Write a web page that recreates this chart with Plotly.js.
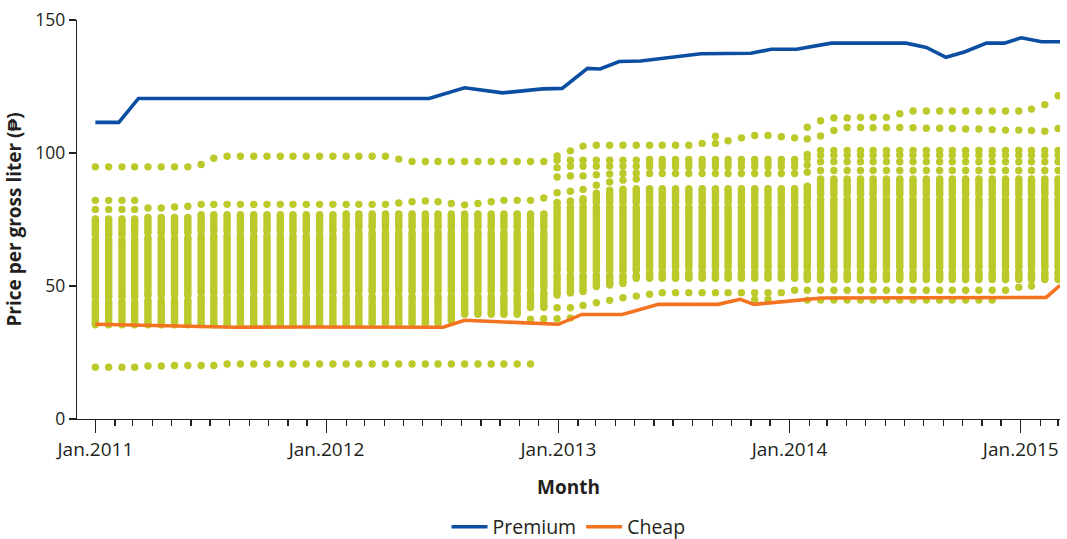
<!DOCTYPE html>
<html>
<head>
<meta charset="utf-8">
<script src="https://cdn.plot.ly/plotly-3.0.1.min.js"></script>
<style>html,body{margin:0;padding:0;background:#fff;}#chart{width:1067px;height:539px;}</style>
</head>
<body>
<div id="chart"></div>
<script>
const n = null;
// survey dates of the per-product price observations (green columns)
const surveyDates = [
'2011-01-01','2011-01-22','2011-02-12','2011-03-04','2011-03-25','2011-04-15','2011-05-06','2011-05-27','2011-06-17','2011-07-07',
'2011-07-28','2011-08-18','2011-09-08','2011-09-29','2011-10-20','2011-11-09','2011-11-30','2011-12-21','2012-01-11','2012-02-01',
'2012-02-21','2012-03-13','2012-04-03','2012-04-24','2012-05-15','2012-06-05','2012-06-25','2012-07-16','2012-08-06','2012-08-27',
'2012-09-17','2012-10-07','2012-10-28','2012-11-18','2012-12-09','2012-12-30','2013-01-20','2013-02-09','2013-03-02','2013-03-23',
'2013-04-13','2013-05-04','2013-05-25','2013-06-14','2013-07-05','2013-07-26','2013-08-16','2013-09-06','2013-09-26','2013-10-17',
'2013-11-07','2013-11-28','2013-12-19','2014-01-09','2014-01-29','2014-02-19','2014-03-12','2014-04-02','2014-04-23','2014-05-13',
'2014-06-03','2014-06-24','2014-07-15','2014-08-05','2014-08-26','2014-09-15','2014-10-06','2014-10-27','2014-11-17','2014-12-08',
'2014-12-29','2015-01-18','2015-02-08','2015-03-01'];

// dense band of product prices per survey: lowest, breaks, highest
const barLo = [
35.4,35.4,35.4,35.4,35.4,35.4,35.4,35.4,35.4,35.4,
35.4,35.4,35.4,35.4,35.4,35.4,35.4,35.4,35.4,35.9,
35.9,35.9,35.9,35.9,35.9,35.9,35.9,36.9,39.4,39.4,
39.4,39.4,39.4,41.9,41.9,46.6,47.4,47.9,49.8,50.4,
50.9,52.9,52.9,52.9,52.9,52.9,52.9,52.9,52.9,52.9,
52.9,52.9,52.9,52.9,52.4,52.4,52.4,52.4,52.4,52.4,
52.4,52.4,52.4,52.4,52.4,52.4,52.4,52.4,52.4,52.4,
52.4,52.4,52.4,52.4];
const notchLo = [
45,45,45,45,45.5,45.5,45.5,45.5,46.5,46.5,
46.5,46.5,46.5,46.5,46.5,46.5,46.5,46.5,46.5,47,
47,47,47,47,47,47,47,47,47,47,
47,47,47,48.5,48.5,55,55,55,55,55,
55,55,56,56,56,56,56,56,56,56,
56,56,56,56,56,56,56,56,56,56,
56,56,56,56,56,56,56,56,56,56,
56,56,56,56];
const notchHi = [
68.4,68.4,68.4,68.4,69,69,69,69,69.7,69.7,
69.7,69.7,69.7,69.7,69.7,69.7,69.7,69.7,69.7,71,
71,71,71,71,71,71,71,71,71,71,
71,71,71,71,71,80.5,80.5,80.5,80.5,80.5,
80.5,80.5,80.5,80.5,80.5,80.5,80.5,80.5,80.5,80.5,
80.5,80.5,80.5,80.5,80.5,83.5,83.5,83.5,83.5,83.5,
83.5,83.5,83.5,83.5,83.5,83.5,83.5,83.5,83.5,83.5,
83.5,83.5,83.5,83.5];
const barHi = [
75.2,75.2,75.2,75.2,75.8,75.8,75.8,75.8,76.8,76.8,
76.8,76.8,76.8,76.8,76.8,76.8,76.8,76.8,76.8,77.1,
77.1,77.1,77.1,77.1,77.1,77.1,77.1,77.1,77.1,77.1,
77.1,77.1,77.1,77.1,77.1,81.2,82,82.8,84.9,86,
86.4,86.6,86.6,86.6,86.6,86.6,86.6,86.6,86.6,86.6,
86.6,86.6,86.6,86.6,87.5,90.2,90.2,90.2,90.2,90.2,
90.2,90.2,90.2,90.2,90.2,90.2,90.2,90.2,90.2,90.2,
90.2,90.2,90.2,90.2];

// isolated product prices per survey
const lowDot = [
19.5,19.5,19.5,19.5,19.9,19.9,20.1,20.1,20.1,20.1,
20.7,20.7,20.7,20.7,20.7,20.7,20.7,20.7,20.7,20.7,
20.7,20.7,20.7,20.7,20.7,20.7,20.7,20.7,20.7,20.7,
20.7,20.7,20.7,20.7,n,n,n,n,n,n,
n,n,n,n,n,n,n,n,n,n,
n,n,n,n,n,n,n,n,n,n,
n,n,n,n,n,n,n,n,n,n,
n,n,n,n];
const dotBelow2 = [
n,n,n,n,n,n,n,n,n,n,
n,n,n,n,n,n,n,n,n,n,
n,n,n,n,n,n,n,n,n,n,
n,n,n,n,n,37.7,38,n,n,n,
n,n,n,n,n,n,n,n,n,n,
44.9,44.9,n,n,44.7,44.7,44.7,44.7,44.7,44.7,
44.7,44.7,44.7,44.7,44.7,44.7,44.7,44.7,44.7,n,
n,n,n,n];
const dotBelow1 = [
n,n,n,n,n,n,n,n,n,n,
n,n,n,n,n,n,n,n,n,n,
n,n,n,n,n,n,n,n,n,n,
n,n,n,37.5,37.7,41.8,41.8,42.7,43.7,44.6,
45.6,46.2,46.9,47.5,47.5,47.5,47.5,47.5,47.5,47.5,
47.5,47.5,47.5,48.4,48.4,48.4,48.4,48.4,48.4,48.4,
48.4,48.4,48.4,48.4,48.4,48.4,48.4,48.4,48.4,48.4,
49.5,50,n,n];
const dotAbove1 = [
78.8,78.8,78.8,78.8,79.3,79.3,79.7,80,80.7,80.7,
80.7,80.7,80.7,80.7,80.7,80.7,80.7,80.7,80.7,80.7,
80.7,80.7,80.7,81.2,81.7,82,81.7,81,80.5,81,
81.7,82.2,82.2,82.2,83.1,85.1,85.6,86.3,87.9,89.1,
89.8,90.2,92.3,92.3,92.3,92.3,92.3,92.3,92.3,92.3,
92.3,92.3,92.3,92.3,92.8,93.4,93.4,93.4,93.4,93.4,
93.4,93.4,93.4,93.4,93.4,93.4,93.4,93.4,93.4,93.4,
93.4,93.4,93.4,93.4];
const dotAbove2 = [
82.2,82.2,82.2,82.2,n,n,n,n,n,n,
n,n,n,n,n,n,n,n,n,n,
n,n,n,n,n,n,n,n,n,n,
n,n,n,n,n,n,n,n,n,n,
n,n,n,n,n,n,n,n,n,n,
n,n,n,n,n,n,n,n,n,n,
n,n,n,n,n,n,n,n,n,n,
n,n,n,n];
const cluster1 = [
n,n,n,n,n,n,n,n,n,n,
n,n,n,n,n,n,n,n,n,n,
n,n,n,n,n,n,n,n,n,n,
n,n,n,n,n,91.0,91.4,91.4,91.8,92.1,
92.3,92.5,94.8,94.8,94.8,94.8,94.8,94.8,94.8,94.8,
94.8,94.8,94.8,94.8,95.5,96.7,96.7,96.7,96.7,96.7,
96.7,96.7,96.7,96.7,96.7,96.7,96.7,96.7,96.7,96.7,
96.7,96.7,96.7,96.7];
const cluster2 = [
n,n,n,n,n,n,n,n,n,n,
n,n,n,n,n,n,n,n,n,n,
n,n,n,n,n,n,n,n,n,n,
n,n,n,n,n,94.5,95,95,95,95,
95,95,96.4,96.4,96.4,96.4,96.4,96.4,96.4,96.4,
96.4,96.4,96.4,96.4,97.8,99.2,99.2,99.2,99.2,99.2,
99.2,99.2,99.2,99.2,99.2,99.2,99.2,99.2,99.2,99.2,
99.2,99.2,99.2,99.2];
const cluster3 = [
n,n,n,n,n,n,n,n,n,n,
n,n,n,n,n,n,n,n,n,n,
n,n,n,n,n,n,n,n,n,n,
n,n,n,n,n,97.3,97.3,97.3,97.3,97.3,
97.3,97.3,97.6,97.6,97.6,97.6,97.6,97.6,97.6,97.6,
97.6,97.6,97.6,97.6,99.5,101,101,101,101,101,
101,101,101,101,101,101,101,101,101,101,
101,101,101,101];
const upperRow = [
94.8,94.8,94.8,94.8,94.8,94.8,94.8,94.8,95.7,98,
98.8,98.8,98.8,98.8,98.8,98.8,98.8,98.8,98.8,98.8,
98.8,98.8,98.8,97.7,96.8,96.8,96.8,96.8,96.8,96.8,
96.8,96.8,96.8,96.8,96.8,98.9,100.8,102.6,102.9,102.9,
102.9,102.9,102.9,102.9,102.9,102.9,103.6,103.6,104.6,105.7,
106.6,106.6,106.1,105.7,105.3,106.4,108.5,109.6,109.6,109.5,
109.6,109.6,109.5,109.3,109.3,109.2,109.0,109.0,108.8,108.6,
108.6,108.5,108.2,109.2];
const topRow = [
n,n,n,n,n,n,n,n,n,n,
n,n,n,n,n,n,n,n,n,n,
n,n,n,n,n,n,n,n,n,n,
n,n,n,n,n,n,n,n,n,n,
n,n,n,n,n,n,n,106.3,n,n,
n,n,n,n,109.7,112.1,113.2,113.2,113.4,113.4,
113.4,114.8,115.8,115.8,115.8,115.8,115.8,115.8,115.8,115.8,
115.8,116.5,118.2,121.5];

// average series
const premiumDates = ['2011-01-01','2011-02-07','2011-03-10','2012-06-11','2012-08-06','2012-10-05','2012-12-07','2013-01-07','2013-02-16','2013-03-08','2013-04-07','2013-05-11','2013-08-14','2013-11-01','2013-12-03','2014-01-12','2014-03-08','2014-07-04','2014-08-05','2014-09-05','2014-10-04','2014-11-08','2014-12-06','2015-01-02','2015-02-03','2015-03-04'];
const premiumPrice = [111.5,111.5,120.5,120.5,124.5,122.6,124.1,124.3,131.8,131.6,134.4,134.6,137.3,137.5,139,139,141.3,141.3,139.7,136,138,141.3,141.3,143.3,141.8,141.8];
const cheapDates = ['2011-01-01','2011-04-14','2011-08-11','2011-11-22','2012-02-24','2012-07-03','2012-08-06','2012-10-23','2013-01-01','2013-02-07','2013-04-12','2013-06-08','2013-09-10','2013-10-15','2013-11-06','2014-02-21','2014-07-29','2015-02-10','2015-03-04'];
const cheapPrice = [35.6,35.0,34.5,34.6,34.6,34.5,37.1,36.4,35.6,39.3,39.3,43.1,43.1,45.0,43.1,45.5,45.6,45.7,50.2];

const GREEN = '#bcc92a', BLUE = '#0c4ea2', ORANGE = '#f37321', INK = '#231f20';
const W = 7.4;      // dot diameter in px
const HALFGAP = 0.9; // small break between touching dot runs

// build band segments
const bx = [], by = [];
surveyDates.forEach((d, i) => {
  const segs = [[barLo[i], notchLo[i] - HALFGAP], [notchLo[i] + HALFGAP, notchHi[i] - HALFGAP], [notchHi[i] + HALFGAP, barHi[i]]];
  segs.forEach(s => { bx.push(d, d, null); by.push(s[0], s[1], null); });
});
// isolated dots
const dx = [], dy = [];
[lowDot, dotBelow2, dotBelow1, dotAbove1, dotAbove2, cluster1, cluster2, cluster3, upperRow, topRow].forEach(arr => {
  arr.forEach((v, i) => { if (v !== null) { dx.push(surveyDates[i]); dy.push(v); } });
});

const data = [
  {type:'scatter', mode:'lines+markers', x:bx, y:by, showlegend:false, hoverinfo:'skip',
   line:{color:GREEN, width:W}, marker:{color:GREEN, size:W}},
  {type:'scatter', mode:'markers', x:dx, y:dy, showlegend:false, hoverinfo:'skip',
   marker:{color:GREEN, size:W}},
  {type:'scatter', mode:'lines', name:'Premium', x:premiumDates, y:premiumPrice,
   line:{color:BLUE, width:3.6}},
  {type:'scatter', mode:'lines', name:'Cheap', x:cheapDates, y:cheapPrice,
   line:{color:ORANGE, width:3.6}}
];

const layout = {
  width:1067, height:539,
  margin:{l:77, r:7, t:20, b:120, autoexpand:false},
  paper_bgcolor:'#ffffff', plot_bgcolor:'#ffffff',
  font:{family:'"Open Sans", sans-serif', color:INK, size:18},
  showlegend:true,
  legend:{orientation:'h', x:0.5, xanchor:'center', yref:'container', y:0.022, yanchor:'middle',
          itemwidth:36, font:{size:19.5, color:INK}, traceorder:'normal'},
  xaxis:{
    type:'date', range:['2010-12-03','2015-03-04'],
    showline:true, linecolor:INK, linewidth:1.3, mirror:false,
    ticks:'outside', ticklen:13, tickwidth:1.3, tickcolor:INK,
    dtick:'M12', tick0:'2011-01-01', tickformat:'%b.%Y',
    minor:{dtick:'M1', tick0:'2011-01-01', ticks:'outside', ticklen:6, tickwidth:1.3, tickcolor:INK, showgrid:false},
    showgrid:false, zeroline:false, automargin:false,
    tickfont:{size:19, color:INK},
    title:{text:'<b>Month</b>', standoff:19, font:{size:19, color:INK}}
  },
  yaxis:{
    range:[0,150], tickvals:[0,50,100,150],
    showline:true, linecolor:INK, linewidth:1.3,
    ticks:'outside', ticklen:7, tickwidth:1.3, tickcolor:INK,
    showgrid:false, zeroline:false, automargin:false,
    tickfont:{size:17.5, color:INK},
    title:{text:'<b>Price per gross liter (₱)</b>', standoff:8, font:{size:19, color:INK}}
  }
};

Plotly.newPlot('chart', data, layout, {displayModeBar:false, staticPlot:true});
</script>
</body>
</html>
